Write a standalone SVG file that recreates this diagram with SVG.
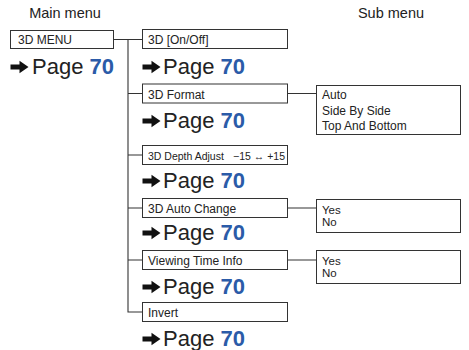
<svg xmlns="http://www.w3.org/2000/svg" width="469" height="350" viewBox="0 0 469 350">
<style>
text{font-family:"Liberation Sans",Arial,sans-serif;fill:#222}
.hd{font-size:14.5px}
.lb{font-size:12px}
.yn{font-size:11.5px}
.sm{font-size:10.5px}
.pg{font-size:22px}
.num{font-weight:bold;fill:#2b5ba8}
.box{fill:#fff;stroke:#333;stroke-width:1}
.ln{fill:none;stroke:#333;stroke-width:1.1}
</style>
<defs>
<path id="arr" d="M0,-2.6 H9 V-6.2 L18,0 L9,6.2 V2.6 H0 Z" fill="#111"/>
</defs>
<rect width="469" height="350" fill="#fff"/>
<text class="hd" x="65" y="18" text-anchor="middle">Main menu</text>
<text class="hd" x="391" y="18" text-anchor="middle">Sub menu</text>
<g id="connectors">
<path class="ln" d="M113,39.5 H142 M128,39.5 V312 H142 M128,93.5 H142 M128,155 H142 M128,208 H142 M128,260 H142"/>
<path class="ln" d="M287,93.5 H316 M287,208 H316 M287,260 H316"/>
</g>
<g id="main">
<rect class="box" x="10.5" y="30.5" width="103" height="18"/>
<text class="lb" x="18" y="44">3D MENU</text>
<use href="#arr" x="10.5" y="67"/>
<text class="pg" x="32" y="74">Page <tspan class="num">70</tspan></text>
</g>
<g id="onoff">
<rect class="box" x="142.5" y="29.5" width="145" height="19"/>
<text class="lb" x="148" y="44">3D [On/Off]</text>
<use href="#arr" x="142.5" y="67"/>
<text class="pg" x="163" y="74">Page <tspan class="num">70</tspan></text>
</g>
<g id="format">
<rect class="box" x="142.5" y="84" width="145" height="19"/>
<text class="lb" x="148" y="98.5">3D Format</text>
<use href="#arr" x="142.5" y="121"/>
<text class="pg" x="163" y="128">Page <tspan class="num">70</tspan></text>
</g>
<g id="depth">
<rect class="box" x="142.5" y="145.5" width="145" height="19"/>
<text class="sm" x="148" y="159.5">3D Depth Adjust</text>
<text class="sm" x="285" y="159.5" text-anchor="end">−15 ↔ +15</text>
<use href="#arr" x="142.5" y="181"/>
<text class="pg" x="163" y="188">Page <tspan class="num">70</tspan></text>
</g>
<g id="autochange">
<rect class="box" x="142.5" y="198.5" width="145" height="19"/>
<text class="lb" x="148" y="212.5">3D Auto Change</text>
<use href="#arr" x="142.5" y="233"/>
<text class="pg" x="163" y="240">Page <tspan class="num">70</tspan></text>
</g>
<g id="viewing">
<rect class="box" x="142.5" y="250.5" width="145" height="19"/>
<text class="lb" x="148" y="264.5">Viewing Time Info</text>
<use href="#arr" x="142.5" y="287"/>
<text class="pg" x="163" y="294">Page <tspan class="num">70</tspan></text>
</g>
<g id="invert">
<rect class="box" x="142.5" y="302.5" width="145" height="19"/>
<text class="lb" x="148" y="316.5">Invert</text>
<use href="#arr" x="142.5" y="339"/>
<text class="pg" x="163" y="346">Page <tspan class="num">70</tspan></text>
</g>
<g id="sub-format">
<rect class="box" x="316.5" y="85.5" width="144" height="49"/>
<text class="lb" x="322" y="99">Auto</text>
<text class="lb" x="322" y="114.5">Side By Side</text>
<text class="lb" x="322" y="130">Top And Bottom</text>
</g>
<g id="sub-autochange">
<rect class="box" x="316.5" y="199.5" width="144" height="33"/>
<text class="yn" x="322" y="213.5">Yes</text>
<text class="yn" x="322" y="225.5">No</text>
</g>
<g id="sub-viewing">
<rect class="box" x="316.5" y="250.5" width="144" height="33"/>
<text class="yn" x="322" y="264.5">Yes</text>
<text class="yn" x="322" y="276.5">No</text>
</g>
</svg>
